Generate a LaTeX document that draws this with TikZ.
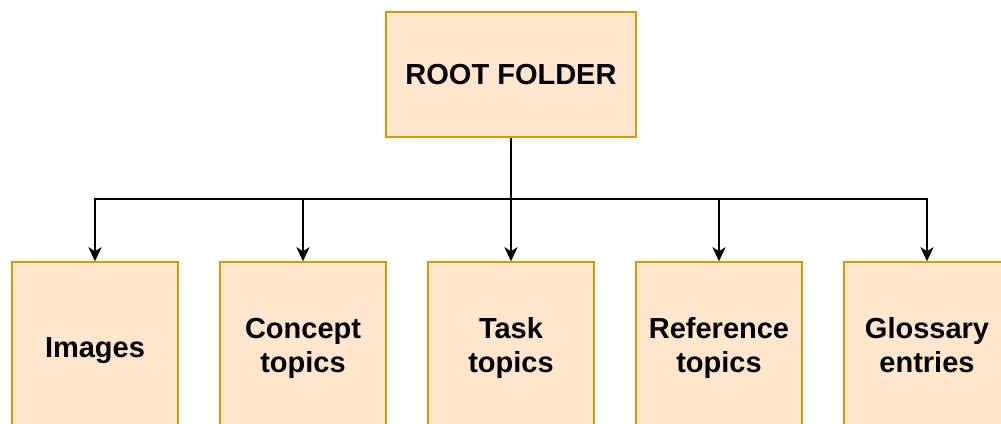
\documentclass[tikz,border=0pt]{standalone}
\usepackage{fontspec}
\setmainfont{Liberation Sans}
\usetikzlibrary{positioning, arrows.meta}
\definecolor{boxfill}{HTML}{FFE6CC}
\definecolor{boxline}{HTML}{D79B00}

\begin{document}
\begin{tikzpicture}[
    x=1pt, y=1pt,
    node distance=40.5pt,
    folder/.style={rectangle, draw=boxline, fill=boxfill, line width=1.5pt, align=center, font=\fontsize{29}{34}\selectfont\bfseries},
    root/.style={folder, minimum width=250pt, minimum height=125pt},
    sub/.style={folder, minimum width=166pt, minimum height=177pt, inner sep=0pt, execute at begin node=\strut, execute at end node=\strut},
    arrow/.style={-{Stealth[length=14pt, width=13pt, inset=4pt]}, line width=2pt}
]
\clip (0,0) rectangle (1001,-423);

% Root
\node[root] (root) at (511,-74.5) {ROOT FOLDER};

% Subfolders
\node[sub] (images) at (95,-350.5) {Images};
\node[sub, right=of images] (concept) {Concept\\topics};
\node[sub, right=of concept] (task) {Task\\topics};
\node[sub, right=of task] (reference) {Reference\\topics};
\node[sub, right=of reference] (glossary) {Glossary\\entries};

% Connections
\coordinate (split) at (511,-199);
\draw[line width=2pt] (root.south) -- (split);
\foreach \n in {images, concept, task, reference, glossary}
    \draw[arrow] (split) -| (\n.north);

\end{tikzpicture}
\end{document}
